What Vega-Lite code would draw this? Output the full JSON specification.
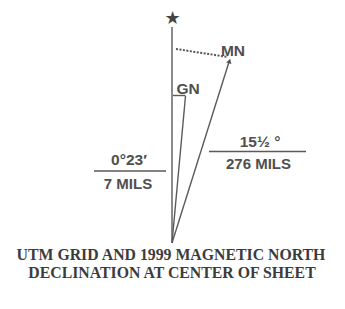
{
  "$schema": "https://vega.github.io/schema/vega-lite/v6.json",
  "width": 345,
  "height": 309,
  "autosize": {"type": "fit", "contains": "padding"},
  "padding": 0,
  "background": "white",
  "view": {"stroke": null},
  "datasets": {
    "lines": [
      {"name": "TN", "x": 172, "y": 27, "x2": 172, "y2": 243},
      {"name": "GN", "x": 185.5, "y": 96, "x2": 172, "y2": 243},
      {"name": "MN", "x": 229, "y": 62, "x2": 172, "y2": 243},
      {"name": "GNtick", "x": 173, "y": 95.5, "x2": 185.5, "y2": 95.5},
      {"name": "fracL", "x": 94, "y": 171, "x2": 166, "y2": 171},
      {"name": "fracR", "x": 209, "y": 151.5, "x2": 306, "y2": 151.5}
    ],
    "dotted": [
      {"x": 176, "y": 49, "x2": 228, "y2": 57}
    ],
    "arrow": [
      {"x": 229.5, "y": 61}
    ],
    "star": [
      {"x": 172.5, "y": 18.5, "label": "★"}
    ],
    "labels": [
      {"x": 188, "y": 89, "label": "GN", "size": 15.5},
      {"x": 233, "y": 51, "label": "MN", "size": 15.5},
      {"x": 129, "y": 160, "label": "0°23′", "size": 15.5},
      {"x": 128, "y": 183.5, "label": "7 MILS", "size": 15},
      {"x": 260, "y": 142, "label": "15½ °", "size": 15.5},
      {"x": 258.5, "y": 164, "label": "276 MILS", "size": 15}
    ],
    "title": [
      {"x": 171, "y": 255, "label": "UTM GRID AND 1999 MAGNETIC NORTH"},
      {"x": 172, "y": 273, "label": "DECLINATION AT CENTER OF SHEET"}
    ]
  },
  "encoding": {
    "x": {"field": "x", "type": "quantitative", "scale": {"domain": [0, 345], "nice": false, "zero": false}, "axis": null},
    "y": {"field": "y", "type": "quantitative", "scale": {"domain": [0, 309], "nice": false, "zero": false, "reverse": true}, "axis": null}
  },
  "layer": [
    {
      "data": {"name": "lines"},
      "mark": {"type": "rule", "color": "#5a5a5a", "strokeWidth": 1.4},
      "encoding": {
        "x2": {"field": "x2"},
        "y2": {"field": "y2"}
      }
    },
    {
      "data": {"name": "dotted"},
      "mark": {"type": "rule", "color": "#555555", "strokeWidth": 2, "strokeDash": [2, 1.5]},
      "encoding": {
        "x2": {"field": "x2"},
        "y2": {"field": "y2"}
      }
    },
    {
      "data": {"name": "arrow"},
      "mark": {"type": "point", "shape": "triangle-up", "filled": true, "color": "#555555", "size": 30, "angle": 17.6, "opacity": 1}
    },
    {
      "data": {"name": "star"},
      "mark": {"type": "text", "font": "DejaVu Sans", "fontSize": 18, "color": "#444444", "align": "center", "baseline": "middle"},
      "encoding": {"text": {"field": "label"}}
    },
    {
      "data": {"name": "labels"},
      "mark": {"type": "text", "font": "Liberation Sans", "fontWeight": "bold", "color": "#4f4f4f", "align": "center", "baseline": "middle"},
      "encoding": {
        "text": {"field": "label"},
        "size": {"field": "size", "type": "quantitative", "scale": null, "legend": null}
      }
    },
    {
      "data": {"name": "title"},
      "mark": {"type": "text", "font": "Liberation Serif", "fontWeight": "bold", "fontSize": 15.8, "color": "#3c3c3c", "align": "center", "baseline": "middle"},
      "encoding": {"text": {"field": "label"}}
    }
  ]
}
